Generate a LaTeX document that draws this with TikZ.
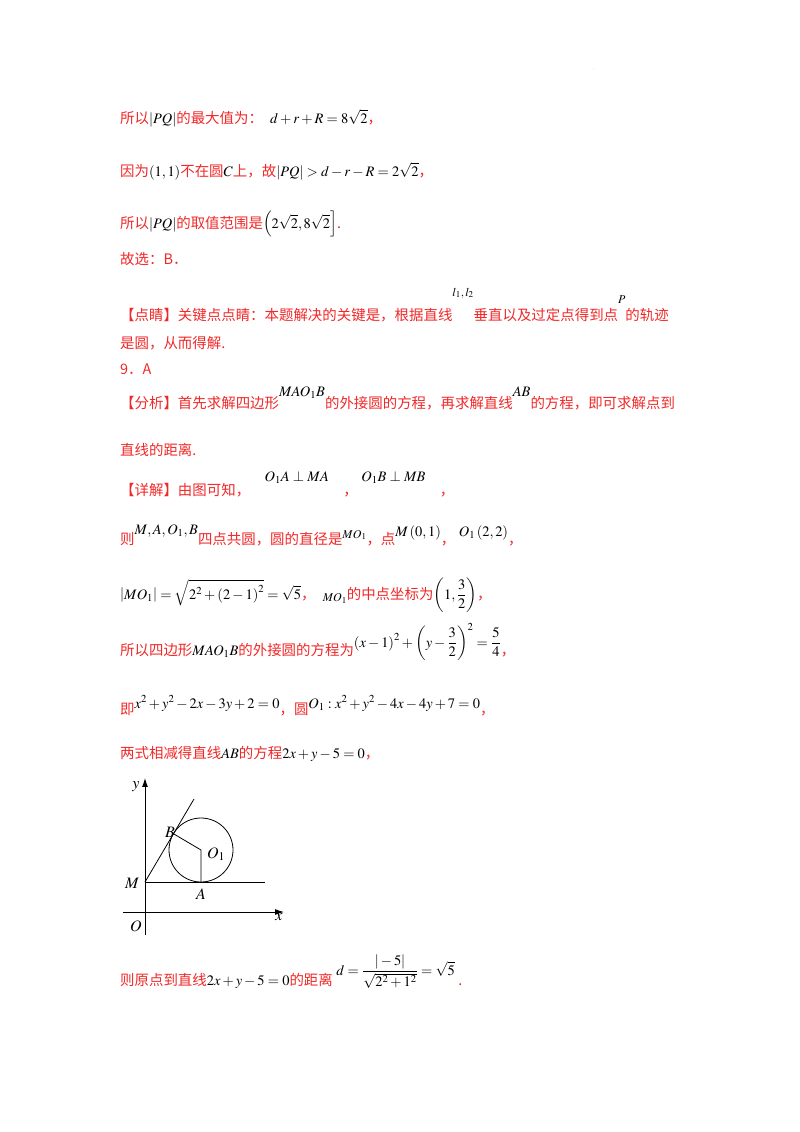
\documentclass[tikz,border=0pt]{standalone}
\usetikzlibrary{arrows.meta}
\usepackage{amsmath}
\usepackage{mathptmx}
\usepackage{fontspec}
\setmainfont{Liberation Serif}
\newfontfamily\cjk{Noto Sans CJK SC}
\definecolor{rd}{RGB}{240,40,40}
\newcommand\sml{\fontsize{12}{14}\selectfont}
\begin{document}
\begin{tikzpicture}[x=1bp,y=-1bp,
  ln/.style={anchor=base west,inner sep=0pt,font=\fontsize{14.5}{17}\selectfont},
  lab/.style={inner sep=0pt,font=\fontsize{16}{18}\selectfont}]
\useasboundingbox (0,0) rectangle (800,1132);
\newcommand\R[1]{\textcolor{rd}{\cjk #1}}
\node[ln] (l1) at (120,123) {\R{所以}$|PQ|$\R{的最大值为：}\ \ $d+r+R=8\sqrt2$\R{，}};
\node[ln] (l2) at (120,176) {\R{因为}$(1,1)$\R{不在圆}$C$\R{上，故}$|PQ|>d-r-R=2\sqrt2$\R{，}};
\node[ln] (l3) at (120,228) {\R{所以}$|PQ|$\R{的取值范围是}$\left(2\sqrt2,8\sqrt2\right]$\R{.}};
\node[ln] (l4) at (120,264) {\R{故选：B．}};
\node[ln] (l5) at (120,320) {\R{【点睛】关键点点睛：本题解决的关键是，根据直线}\raisebox{24pt}{\sml$l_1,l_2$}\R{垂直以及过定点得到点}\raisebox{17pt}{\sml$P$}\R{的轨迹}};
\node[ln] (l6) at (120,348) {\R{是圆，从而得解.}};
\node[ln] (l7) at (120,374) {\R{9．A}};
\node[ln] (l8) at (120,408) {\R{【分析】首先求解四边形}\raisebox{12pt}{$MAO_1B$}\R{的外接圆的方程，再求解直线}\raisebox{12pt}{$AB$}\R{的方程，即可求解点到}};
\node[ln] (l9) at (120,455) {\R{直线的距离.}};
\node[ln] (l10) at (120,495) {\R{【详解】由图可知，}\quad\raisebox{14pt}{$O_1A\perp MA$}\quad\R{，}\ \raisebox{14pt}{$O_1B\perp MB$}\quad\R{，}};
\node[ln] (l11) at (120,544) {\R{则}\raisebox{10pt}{$M,A,O_1,B$}\R{四点共圆，圆的直径是}\raisebox{6pt}{\sml$MO_1$}\R{，点}\raisebox{8pt}{$M\left(0,1\right)$}\R{，}\ \raisebox{8pt}{$O_1\left(2,2\right)$}\R{，}};
\node[ln] (l12) at (120,599) {$\left|MO_1\right|=\sqrt{2^2+\left(2-1\right)^2}=\sqrt5$\R{，}\ \ \raisebox{-3pt}{\sml$MO_1$}\R{的中点坐标为}$\left(1,\dfrac32\right)$\R{，}};
\node[ln] (l13) at (120,655) {\R{所以四边形}$MAO_1B$\R{的外接圆的方程为}\raisebox{8pt}{$\left(x-1\right)^2+\left(y-\dfrac32\right)^2=\dfrac54$}\R{，}};
\node[ln] (l14) at (120,714) {\R{即}\raisebox{6pt}{$x^2+y^2-2x-3y+2=0$}\R{，圆}\raisebox{6pt}{$O_1:x^2+y^2-4x-4y+7=0$}\R{，}};
\node[ln] (l15) at (120,758) {\R{两式相减得直线}$AB$\R{的方程}$2x+y-5=0$\R{，}};
\node[ln] (l16) at (120,985) {\R{则原点到直线}$2x+y-5=0$\R{的距离}\ \raisebox{10pt}{$d=\dfrac{|-5|}{\sqrt{2^2+1^2}}=\sqrt5$}\ \R{.}};
% figure
\coordinate (M) at (145,882);
\coordinate (O1) at (201,850);
\coordinate (A) at (201,882);
\coordinate (B) at (173.4,833.7);
\coordinate (T) at (194,799);
\coordinate (H) at (265,882);
\coordinate (yb) at (145,935); \coordinate (yt) at (145,778);
\coordinate (xl) at (123,912); \coordinate (xr) at (284,912);
\draw[line width=0.9pt,-{Latex[length=9pt,width=6pt]}] (yb) -- (yt);
\draw[line width=0.9pt,-{Latex[length=9pt,width=6pt]}] (xl) -- (xr);
\draw[line width=0.8pt] (M) -- (H);
\draw[line width=0.8pt] (M) -- (T);
\draw[line width=0.8pt] (O1) circle[radius=32bp];
\draw[line width=0.8pt] (B) -- (O1) -- (A);
\node[lab] (ly) at (136,787) {$y$};
\node[lab] (lx) at (279,917) {$x$};
\node[lab] (lO) at (136,926) {$O$};
\node[lab] (lM) at (132,883) {$M$};
\node[lab] (lB) at (170,832) {$B$};
\node[lab] (lA) at (201,894) {$A$};
\node[lab] (lO1) at (216,854) {$O_1$};
\node[font=\tiny,text=gray] (dot) at (594,69) {.};
\end{tikzpicture}
\end{document}
